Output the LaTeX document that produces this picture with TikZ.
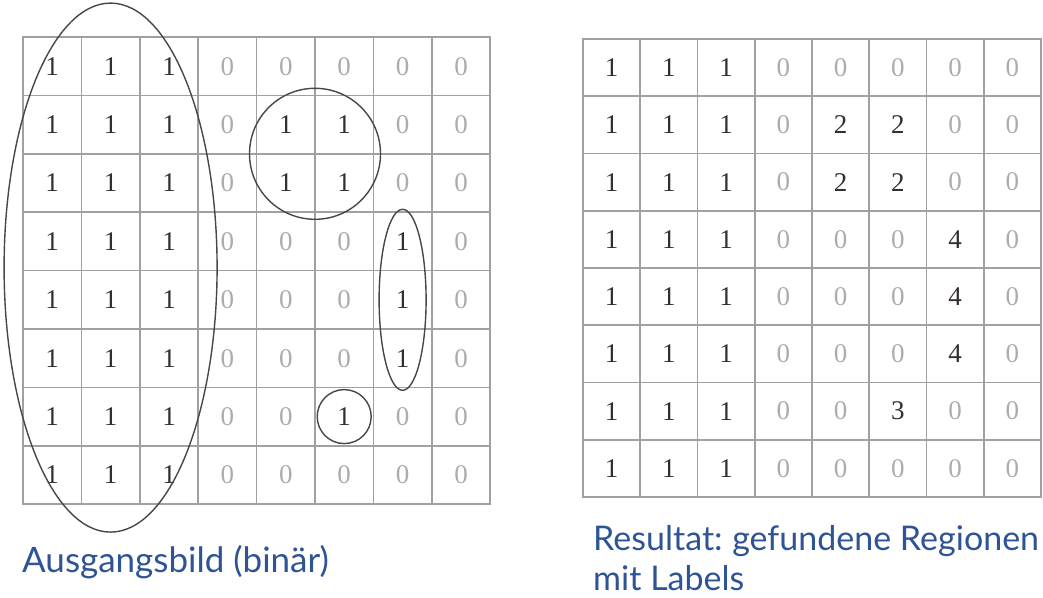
\documentclass[tikz,border=0pt]{standalone}
\usepackage{fontspec}
\setmainfont{Liberation Serif}
\newfontfamily\captionfont{Lato}
\usetikzlibrary{matrix,positioning}
\definecolor{zerogray}{RGB}{172,172,172}
\definecolor{onegray}{RGB}{52,46,46}
\definecolor{gridgray}{RGB}{160,160,160}
\definecolor{captionblue}{RGB}{46,84,150}
\newcommand{\z}{\textcolor{zerogray}{0}}

\begin{document}
\begin{tikzpicture}
  [x=1pt,y=1pt,
   gridM/.style={matrix of nodes,anchor=north west,inner sep=0pt,outer sep=0pt,
     column sep=-1.6pt,row sep=-1.6pt,
     nodes={draw=gridgray,line width=1.6pt,inner sep=0pt,outer sep=0pt,anchor=center,
       minimum size=#1,text=onegray,font=\fontsize{27}{27}\selectfont}},
   regionE/.style={draw=black!72,line width=1.4pt},
   captionN/.style={anchor=base west,inner sep=0pt,text=captionblue,
     font=\captionfont\fontsize{#1}{#1}\selectfont}]

  \useasboundingbox (0,0) rectangle (1043,597);

  \matrix[gridM=58.4pt] (bin) at (22.2,560.8) {
    1 & 1 & 1 & \z & \z & \z & \z & \z \\
    1 & 1 & 1 & \z & 1  & 1  & \z & \z \\
    1 & 1 & 1 & \z & 1  & 1  & \z & \z \\
    1 & 1 & 1 & \z & \z & \z & 1  & \z \\
    1 & 1 & 1 & \z & \z & \z & 1  & \z \\
    1 & 1 & 1 & \z & \z & \z & 1  & \z \\
    1 & 1 & 1 & \z & \z & 1  & \z & \z \\
    1 & 1 & 1 & \z & \z & \z & \z & \z \\
  };

  \matrix[gridM=57.25pt] (lab) at (582.2,558.8) {
    1 & 1 & 1 & \z & \z & \z & \z & \z \\
    1 & 1 & 1 & \z & 2  & 2  & \z & \z \\
    1 & 1 & 1 & \z & 2  & 2  & \z & \z \\
    1 & 1 & 1 & \z & \z & \z & 4  & \z \\
    1 & 1 & 1 & \z & \z & \z & 4  & \z \\
    1 & 1 & 1 & \z & \z & \z & 4  & \z \\
    1 & 1 & 1 & \z & \z & 3  & \z & \z \\
    1 & 1 & 1 & \z & \z & \z & \z & \z \\
  };

  \draw[regionE] ([yshift=3pt]bin-4-2.south) ellipse[x radius=106.5,y radius=264.5];
  \draw[regionE] (bin-2-5.south east) circle[radius=65.5];
  \draw[regionE] (bin-5-7) ellipse[x radius=23.5,y radius=90.5];
  \draw[regionE] (bin-7-6) circle[radius=27];

  \node[captionN=35] (binC) at (22,25) {Ausgangsbild (binär)};
  \node[captionN=34] (labC) at (593,47) {Resultat:\kern-2pt{} gefundene Regionen};
  \node[captionN=34] (labC2) [below=40pt of labC.base west,anchor=base west] {mit Labels};

\end{tikzpicture}
\end{document}
